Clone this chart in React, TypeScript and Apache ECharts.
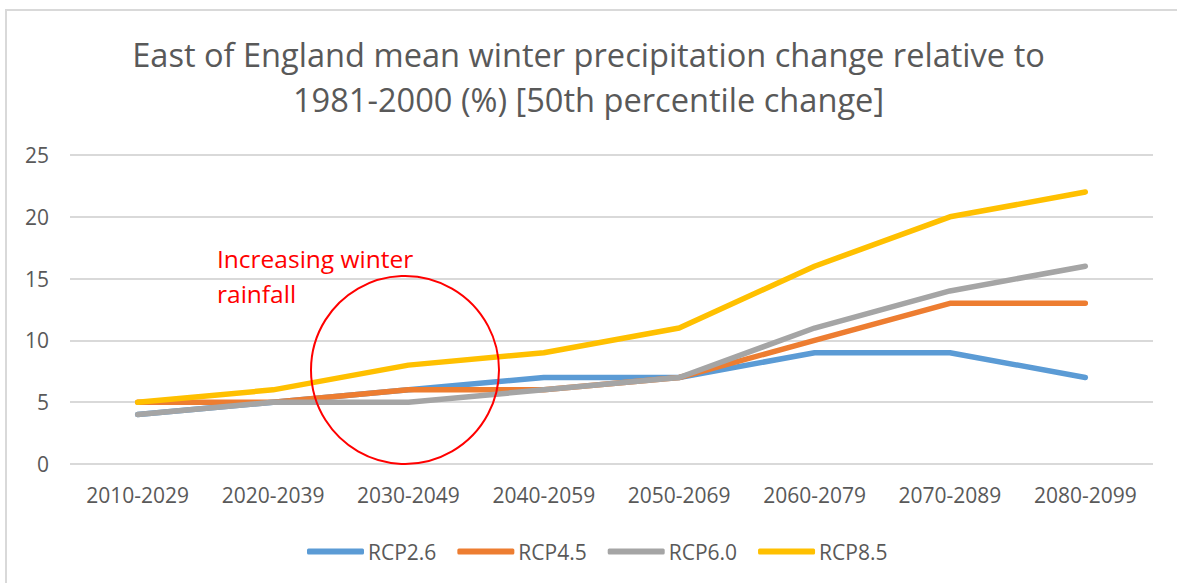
import React, { useEffect, useRef } from "react";
import * as echarts from "echarts";

const categories = ["2010-2029", "2020-2039", "2030-2049", "2040-2059", "2050-2069", "2060-2079", "2070-2089", "2080-2099"];
const rcp26 = [4, 5, 6, 7, 7, 9, 9, 7];
const rcp45 = [5, 5, 6, 6, 7, 10, 13, 13];
const rcp60 = [4, 5, 5, 6, 7, 11, 14, 16];
const rcp85 = [5, 6, 8, 9, 11, 16, 20, 22];
const seriesNames = ["RCP2.6", "RCP4.5", "RCP6.0", "RCP8.5"];
const colors = ["#5B9BD5", "#ED7D31", "#A5A5A5", "#FFC000"];
const titleText = "East of England mean winter precipitation change relative to\n1981-2000 (%) [50th percentile change]";
const annotationText = "Increasing winter\nrainfall";

const FONT = "'Open Sans', 'Noto Sans', sans-serif";

export default function App() {
  const ref = useRef<HTMLDivElement>(null);
  useEffect(() => {
    if (!ref.current) return;
    const chart = echarts.init(ref.current, undefined, { renderer: "svg" });
    const data = [rcp26, rcp45, rcp60, rcp85];
    chart.setOption({
      animation: false,
      backgroundColor: "#ffffff",
      title: {
        text: titleText,
        left: "center",
        top: 27,
        textStyle: { fontFamily: FONT, fontSize: 32.6, fontWeight: "normal", color: "#595959", lineHeight: 45 },
      },
      grid: { left: 70, right: 24, top: 155, bottom: 119, containLabel: false },
      xAxis: {
        type: "category",
        data: categories,
        boundaryGap: true,
        axisLine: { show: false },
        axisTick: { show: false },
        axisLabel: { color: "#595959", fontSize: 21, fontFamily: FONT, margin: 20 },
      },
      yAxis: {
        type: "value",
        min: 0,
        max: 25,
        interval: 5,
        axisLine: { show: false },
        axisTick: { show: false },
        splitLine: { lineStyle: { color: "#D9D9D9", width: 2 } },
        axisLabel: { color: "#595959", fontSize: 21, fontFamily: FONT, margin: 21, align: "right" },
      },
      legend: {
        top: 536,
        left: 302,
        icon: "roundRect",
        itemWidth: 57,
        itemHeight: 6,
        itemGap: 21,
        textStyle: { color: "#595959", fontSize: 21, fontFamily: FONT, padding: [0, 0, 0, -1] },
        data: seriesNames,
      },
      series: seriesNames.map((name, i) => ({
        name,
        type: "line",
        data: data[i],
        symbol: "none",
        color: colors[i],
        lineStyle: { width: 5.5, color: colors[i], cap: "round", join: "round" },
      })),
      graphic: [
        {
          type: "rect",
          shape: { x: 6, y: 10, width: 1300, height: 700 },
          style: { fill: "none", stroke: "#D9D9D9", lineWidth: 2 },
          silent: true,
          z: -1,
        },
        {
          type: "text",
          left: 217,
          top: 241,
          style: { text: annotationText, fill: "#FF0000", fontSize: 24.5, fontFamily: FONT, lineHeight: 35 },
          z: 10,
        },
        {
          type: "circle",
          shape: { cx: 405, cy: 370, r: 94 },
          style: { fill: "none", stroke: "#FF0000", lineWidth: 2 },
          z: 10,
        },
      ],
    });
    return () => chart.dispose();
  }, []);
  return <div ref={ref} style={{ position: "fixed", left: 0, top: 0, width: 1177, height: 583 }} />;
}
